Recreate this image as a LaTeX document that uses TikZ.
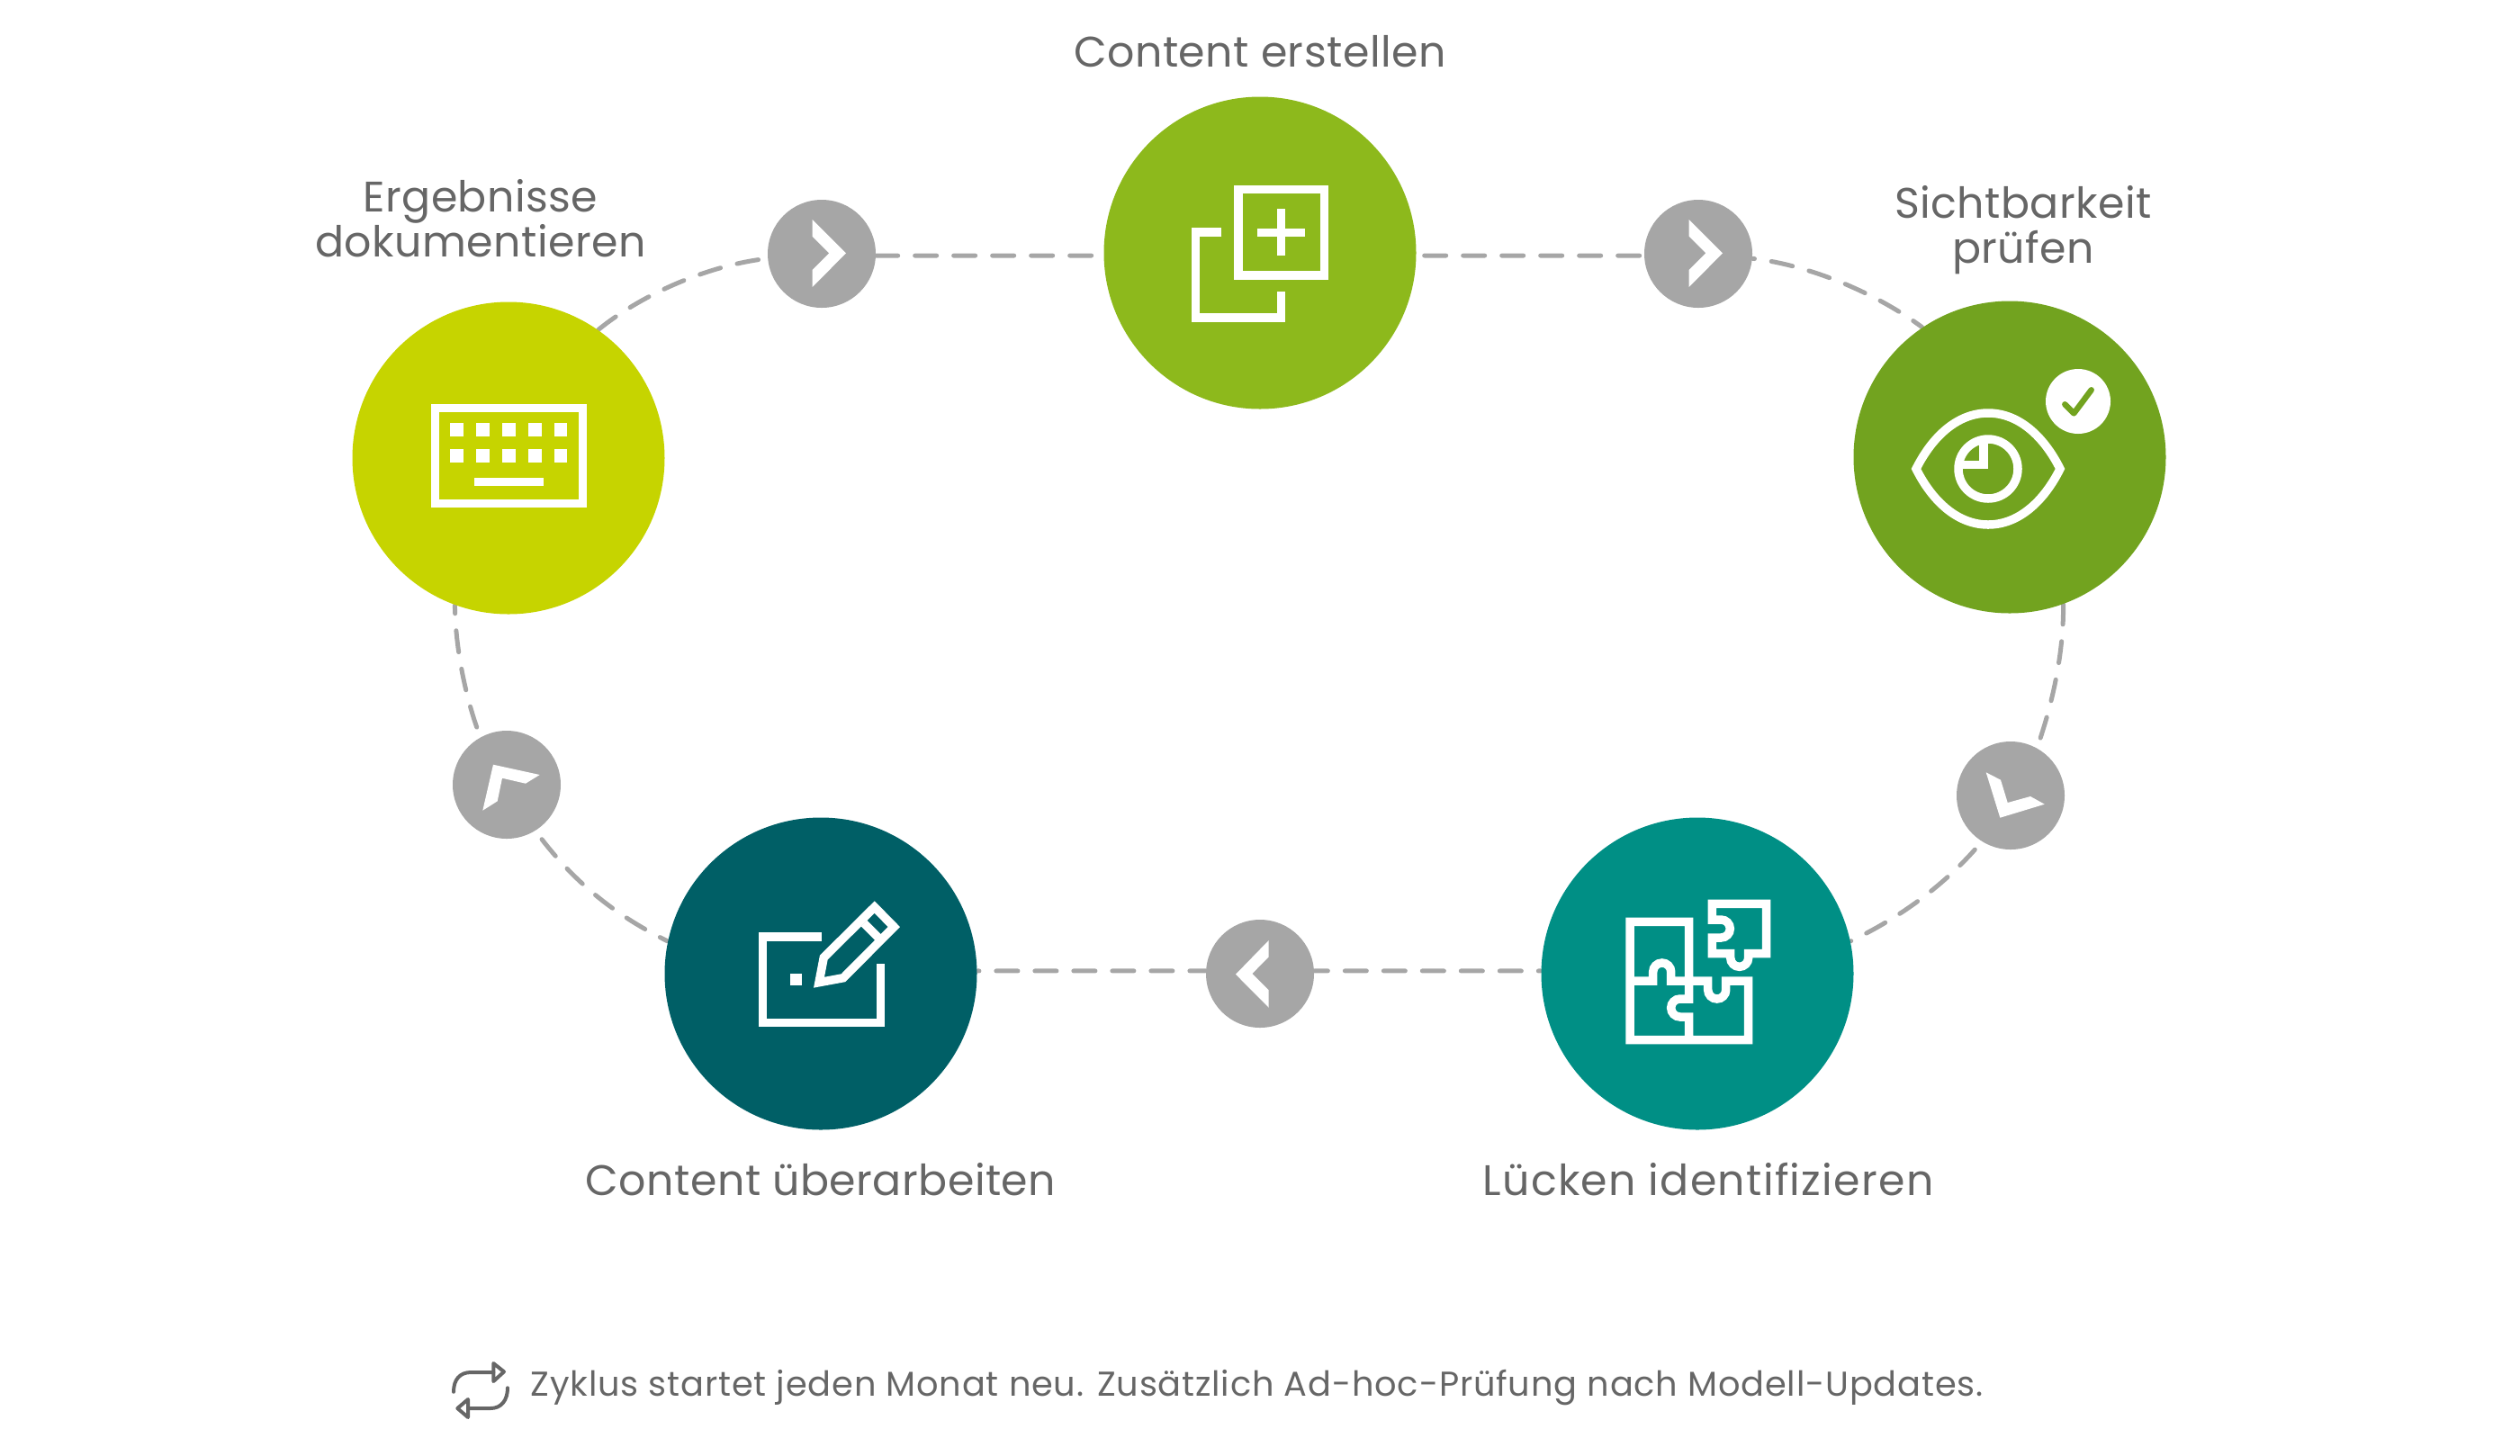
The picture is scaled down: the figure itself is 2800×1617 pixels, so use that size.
\documentclass[tikz,border=0pt]{standalone}
\usepackage{fontspec}
\setmainfont{Poppins}[LetterSpace=1]
\usetikzlibrary{backgrounds}

\definecolor{txtgray}{HTML}{666666}
\definecolor{dotgray}{HTML}{A6A6A6}
\definecolor{limegreen}{HTML}{8DB91C}
\definecolor{leafgreen}{HTML}{72A31F}
\definecolor{yellowgreen}{HTML}{C6D400}
\definecolor{tealgreen}{HTML}{008F85}
\definecolor{darkteal}{HTML}{005F66}

\tikzset{
    stepcircle/.style={circle, minimum size=34.7mm, inner sep=0pt},
    arrowcircle/.style={circle, fill=dotgray, minimum size=12mm, inner sep=0pt},
    dashline/.style={dotgray, line width=0.5mm, line cap=round, dash pattern=on 2.4mm off 1.9mm},
    chevron/.style={white},
    iconline/.style={white, line width=0.95mm, miter limit=10},
    steplabel/.style={text=txtgray, font=\fontsize{13.5}{14.2}\selectfont, align=center, inner sep=0pt},
    repeatline/.style={txtgray, line width=0.4mm, line cap=round, line join=round},
}

\begin{document}
\begin{tikzpicture}[x=0.1mm, y=-0.1mm]
    \useasboundingbox (0,0) rectangle (2800,1617);

    % Step circles
    \node[stepcircle, fill=limegreen] (create) at (1400,281) {};
    \node[stepcircle, fill=leafgreen] (see) at (2233,508) {};
    \node[stepcircle, fill=tealgreen] (puzzle) at (1886,1082) {};
    \node[stepcircle, fill=darkteal] (pencil) at (912,1082) {};
    \node[stepcircle, fill=yellowgreen] (keyboard) at (565,509) {};

    % Arrow circles
    \node[arrowcircle] (arrowa) at (913,282) {};
    \node[arrowcircle] (arrowb) at (1887,282) {};
    \node[arrowcircle] (arrowc) at (2234,884) {};
    \node[arrowcircle] (arrowd) at (1400,1082) {};
    \node[arrowcircle] (arrowe) at (563,872) {};

    % Dashed ring
    \begin{scope}[on background layer]
        \draw[dashline, dash phase=3.45mm] (create.-1) -- (arrowb.182);
        \draw[dashline, dash phase=2.2mm] (arrowb.-5) .. controls (2014,295) and (2088,328) .. (see.124);
        \draw[dashline, dash phase=3.15mm] (arrowc.61) .. controls (2283,775) and (2293,720) .. (see.-70);
        \draw[dashline, dash phase=3.15mm] (arrowc.238) .. controls (2160,985) and (2110,1020) .. (puzzle.12);
        \draw[dashline, dash phase=2.15mm] (puzzle.179) -- (arrowd.3);
        \draw[dashline, dash phase=0.65mm] (arrowd.177) -- (pencil.1);
        \draw[dashline, dash phase=3.15mm] (arrowe.-58) .. controls (640,985) and (690,1020) .. (pencil.168);
        \draw[dashline, dash phase=3.15mm] (arrowe.119) .. controls (517,775) and (506,720) .. (keyboard.-110);
        \draw[dashline] (keyboard.55) .. controls (712,328) and (785,295) .. (arrowa.185);
        \draw[dashline] (arrowa.-2) -- (create.181);
    \end{scope}

    % Chevrons
    \fill[chevron, shift={(arrowa.center)}] (-10.3,-38) -- (27,-0.7) -- (-10.3,37) -- (-10.3,18) -- (8.3,-0.7) -- (-10.3,-19.3) -- cycle;
    \fill[chevron, shift={(arrowb.center)}] (-10.3,-38) -- (27,-0.7) -- (-10.3,37) -- (-10.3,18) -- (8.3,-0.7) -- (-10.3,-19.3) -- cycle;
    \fill[chevron, shift={(arrowc.center)}] (-27.3,-25.7) -- (-11,-17.3) -- (-3.3,8) -- (22,1) -- (37.7,9.7) -- (-11.7,24.7) -- cycle;
    \fill[chevron, shift={(arrowd.center)}] (9.7,-37) -- (9.7,-18.7) -- (-8.7,0) -- (9.7,18.3) -- (9.7,37.7) -- (-27,0.7) -- cycle;
    \fill[chevron, shift={(arrowe.center)}] (-15,-22.3) -- (36.7,-11) -- (21,-1.3) -- (-5,-7.3) -- (-10.3,18.3) -- (-26.7,28.7) -- cycle;

    % Copy icon
    \draw[iconline] (1376,210.7) rectangle (1471.3,306);
    \draw[iconline] (1397.3,258.3) -- (1450,258.3);
    \draw[iconline] (1423.7,232) -- (1423.7,284.3);
    \draw[iconline] (1357.3,258) -- (1328.7,258) -- (1328.7,353) -- (1423.7,353) -- (1423.7,324.3);

    % Eye icon
    \draw[iconline] (2129,521) .. controls (2147,485) and (2175,459) .. (2209,459)
        .. controls (2243,459) and (2271,485) .. (2289,521)
        .. controls (2271,557) and (2243,583) .. (2209,583)
        .. controls (2175,583) and (2147,557) .. (2129,521) -- cycle;
    \draw[iconline] (2209,521) circle (33);
    \draw[iconline] (2176.5,516.3) -- (2204.2,516.3) -- (2204.2,488);
    \fill[white] (2309,446) circle (36);
    \draw[leafgreen, line width=0.65mm, line cap=round, line join=round] (2294.3,449.3) -- (2304.3,459.3) -- (2323.7,433.3);

    % Puzzle icon
    \draw[iconline] (1876.7,1155.7) -- (1876.7,1130) -- (1866.7,1130) arc (90:270:10) -- (1876.7,1110)
        -- (1876.7,1024.3) -- (1811,1024.3) -- (1811,1155.7) -- (1942.7,1155.7) -- (1942.7,1090)
        -- (1917.7,1090) -- (1917.7,1100) arc (0:180:10) -- (1897.7,1090) -- (1856.7,1090)
        -- (1856.7,1080) arc (0:-180:10) -- (1836.7,1090) -- (1811,1090);
    \draw[iconline] (1902.3,1004.3) -- (1962.7,1004.3) -- (1962.7,1059.7) -- (1942.7,1059.7)
        -- (1942.7,1064.3) arc (0:180:10) -- (1922.7,1059.7) -- (1902.3,1059.7) -- (1902.3,1042)
        -- (1912.3,1042) arc (90:-90:10) -- (1902.3,1022) -- cycle;

    % Pencil icon
    \draw[iconline] (913,1041) -- (847.7,1041) -- (847.7,1136.3) -- (978.3,1136.3) -- (978.3,1071);
    \fill[white] (878.3,1082.3) rectangle (891.3,1095.3);
    \draw[iconline] (910,1091.7) -- (915.3,1064) -- (971.7,1008) -- (993.3,1030) -- (937,1086.7) -- cycle;
    \draw[iconline] (960,1026) -- (975.7,1041.7);

    % Keyboard icon
    \draw[iconline] (483.7,453.3) rectangle (647.3,559.3);
    \foreach \keyx in {500.3,529.3,558.3,587.3,616}
        \foreach \keyy in {470.3,499.3}
            \fill[white] (\keyx,\keyy) rectangle ++(14.3,14.3);
    \fill[white] (527,530.7) rectangle (603.7,540);

    % Labels
    \node[steplabel] (createlabel) at (1400,57) {Content erstellen};
    \node[steplabel] (seelabel) at (2248,256) {Sichtbarkeit\\prüfen};
    \node[steplabel] (puzzlelabel) at (1898,1311) {\addfontfeatures{LetterSpace=2.7}Lücken identifizieren};
    \node[steplabel] (pencillabel) at (912,1311) {Content überarbeiten};
    \node[steplabel] (keyboardlabel) at (534,243) {Ergebnisse\\dokumentieren};

    % Note with repeat icon
    \draw[repeatline] (504,1546.7) .. controls (504,1533) and (511,1525) .. (523.3,1525) -- (548.3,1525);
    \draw[repeatline] (548.3,1515) -- (560,1524.3) -- (548.3,1535) -- cycle;
    \draw[repeatline] (564,1542.3) .. controls (564,1556) and (557,1565) .. (545,1565) -- (520,1565);
    \draw[repeatline] (520,1555) -- (508.3,1565) -- (520,1575) -- cycle;
    \node[text=txtgray, font=\fontsize{10.9}{12}\selectfont\addfontfeatures{LetterSpace=2.2}, anchor=west, inner sep=0pt] (note) at (589,1542) {Zyklus startet jeden Monat neu. Zusätzlich Ad-hoc-Prüfung nach Modell-Updates.};
\end{tikzpicture}
\end{document}
